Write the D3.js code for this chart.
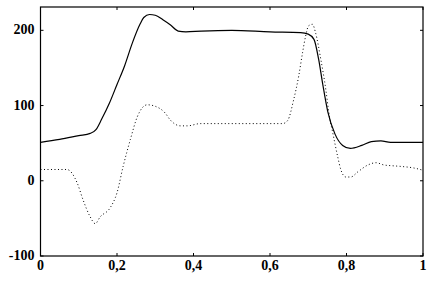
<!DOCTYPE html>
<html>
<head>
<meta charset="utf-8">
<script src="https://cdn.jsdelivr.net/npm/d3@7"></script>
<style>
  body { margin: 0; background: #fff; }
  .lbl { font-family: "Liberation Serif", "Times New Roman", "DejaVu Serif", serif; font-weight: bold; font-size: 14px; fill: #000; }
</style>
</head>
<body>
<svg id="chart"></svg>
<script>
const size = { width: 429, height: 284 };
const margin = { top: 7, right: 6, bottom: 28, left: 40.5 };

const xTicks = [0, 0.2, 0.4, 0.6, 0.8, 1];
const xTickLabels = ["0", "0,2", "0,4", "0,6", "0,8", "1"];
const yTicks = [-100, 0, 100, 200];

// solid curve
const solidX = [0, 0.05, 0.10, 0.13, 0.145, 0.16, 0.18, 0.2, 0.22, 0.24, 0.26, 0.27, 0.285, 0.30, 0.32, 0.34, 0.36, 0.38, 0.42, 0.5, 0.6, 0.68, 0.70, 0.715, 0.727, 0.738, 0.751, 0.77, 0.79, 0.81, 0.84, 0.865, 0.89, 0.915, 1];
const solidY = [51, 55, 60, 63, 68, 82, 103, 128, 153, 183, 208, 217, 221, 220, 214, 207, 199, 198, 199, 200, 198, 197, 195, 188, 162, 128, 92, 62, 47, 43, 47, 52, 53, 51, 51];

// dotted curve
const dotX = [0, 0.04, 0.069, 0.096, 0.111, 0.130, 0.143, 0.156, 0.182, 0.2, 0.216, 0.235, 0.253, 0.279, 0.3, 0.326, 0.339, 0.366, 0.384, 0.418, 0.5, 0.633, 0.646, 0.662, 0.675, 0.685, 0.693, 0.701, 0.711, 0.719, 0.733, 0.746, 0.754, 0.764, 0.777, 0.785, 0.798, 0.811, 0.830, 0.856, 0.877, 0.898, 0.919, 0.944, 0.976, 1];
const dotY = [15, 15, 15, -3, -25, -48, -57, -48, -36, -16, 19, 55, 85, 101, 99, 90, 81, 73, 73, 76, 76, 76, 80, 108, 139, 170, 192, 206, 208, 197, 161, 121, 90, 64, 32, 15, 5, 5, 12, 21, 24, 21, 20, 19, 17, 14];

const svg = d3.select("#chart")
  .attr("width", size.width)
  .attr("height", size.height);

const x = d3.scaleLinear()
  .domain([0, 1])
  .range([margin.left, size.width - margin.right]);

const y = d3.scaleLinear()
  .domain([-100, 231])
  .range([size.height - margin.bottom, margin.top]);

const x0 = x.range()[0], x1 = x.range()[1];
const y0 = y.range()[0], y1 = y.range()[1];

// frame
svg.append("rect")
  .attr("x", x0).attr("y", y1)
  .attr("width", x1 - x0).attr("height", y0 - y1)
  .attr("fill", "none").attr("stroke", "#000").attr("stroke-width", 1.2);

// inward ticks on all sides
xTicks.forEach((t) => {
  svg.append("line").attr("x1", x(t)).attr("x2", x(t)).attr("y1", y0).attr("y2", y0 - 3).attr("stroke", "#000");
  svg.append("line").attr("x1", x(t)).attr("x2", x(t)).attr("y1", y1).attr("y2", y1 + 3).attr("stroke", "#000");
});
yTicks.forEach((t) => {
  svg.append("line").attr("x1", x0).attr("x2", x0 + 3).attr("y1", y(t)).attr("y2", y(t)).attr("stroke", "#000");
  svg.append("line").attr("x1", x1).attr("x2", x1 - 3).attr("y1", y(t)).attr("y2", y(t)).attr("stroke", "#000");
});

svg.selectAll(".xl")
  .data(xTicks)
  .enter()
  .append("text")
  .attr("class", "lbl")
  .attr("x", (d) => x(d))
  .attr("y", y0 + 14)
  .attr("text-anchor", "middle")
  .text((d, i) => xTickLabels[i]);

svg.selectAll(".yl")
  .data(yTicks)
  .enter()
  .append("text")
  .attr("class", "lbl")
  .attr("x", x0 - 6)
  .attr("y", (d) => y(d) + 4)
  .attr("text-anchor", "end")
  .text((d) => d);

const line = d3.line()
  .x((d) => x(d[0]))
  .y((d) => y(d[1]))
  .curve(d3.curveMonotoneX);

svg.append("path")
  .datum(dotX.map((v, i) => [v, dotY[i]]))
  .attr("d", line)
  .attr("fill", "none")
  .attr("stroke", "#000")
  .attr("stroke-width", 1)
  .attr("stroke-dasharray", "1,2.5");

svg.append("path")
  .datum(solidX.map((v, i) => [v, solidY[i]]))
  .attr("d", line)
  .attr("fill", "none")
  .attr("stroke", "#000")
  .attr("stroke-width", 1.2);
</script>
</body>
</html>
